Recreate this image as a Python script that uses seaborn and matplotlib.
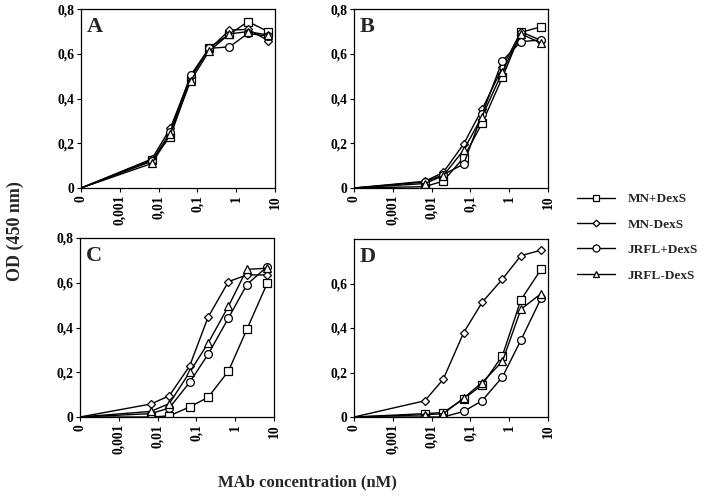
import numpy as np
import pandas as pd
import matplotlib
matplotlib.use("Agg")
import matplotlib.pyplot as plt
import seaborn as sns
from matplotlib.lines import Line2D

sns.set_style("ticks")
plt.rcParams['font.family'] = ['Liberation Serif', 'DejaVu Serif']
plt.rcParams['font.weight'] = 'bold'

# ---------------- data ----------------
conc = [0, 0.0067, 0.02, 0.067, 0.2, 0.67, 2.0, 6.7]   # MAb concentration (nM)
series_names = ["MN+DexS", "MN-DexS", "JRFL+DexS", "JRFL-DexS"]
series_markers = ["s", "D", "o", "^"]

A_mn_plus   = [0, 0.125, 0.23, 0.49, 0.628, 0.688, 0.745, 0.700]
A_mn_minus  = [0, 0.130, 0.267, 0.500, 0.620, 0.707, 0.710, 0.660]
A_jr_plus   = [0, 0.120, 0.250, 0.505, 0.625, 0.632, 0.692, 0.680]
A_jr_minus  = [0, 0.110, 0.240, 0.480, 0.612, 0.690, 0.700, 0.685]

B_mn_plus   = [0, 0.006, 0.031, 0.136, 0.290, 0.495, 0.697, 0.722]
B_mn_minus  = [0, 0.030, 0.070, 0.197, 0.352, 0.540, 0.700, 0.660]
B_jr_plus   = [0, 0.027, 0.060, 0.107, 0.330, 0.570, 0.655, 0.663]
B_jr_minus  = [0, 0.020, 0.055, 0.170, 0.320, 0.520, 0.690, 0.648]

C_mn_plus   = [0, 0.000, 0.005, 0.045, 0.088, 0.205, 0.392, 0.598]
C_mn_minus  = [0, 0.058, 0.095, 0.228, 0.446, 0.605, 0.635, 0.635]
C_jr_plus   = [0, 0.015, 0.040, 0.155, 0.280, 0.442, 0.592, 0.672]
C_jr_minus  = [0, 0.025, 0.060, 0.200, 0.330, 0.495, 0.660, 0.665]

D_mn_plus   = [0, 0.015, 0.020, 0.081, 0.144, 0.276, 0.526, 0.665]
D_mn_minus  = [0, 0.073, 0.170, 0.379, 0.515, 0.620, 0.725, 0.750]
D_jr_plus   = [0, 0.000, 0.000, 0.025, 0.073, 0.180, 0.345, 0.535]
D_jr_minus  = [0, 0.010, 0.015, 0.085, 0.155, 0.250, 0.484, 0.555]

panels = {
    "A": [A_mn_plus, A_mn_minus, A_jr_plus, A_jr_minus],
    "B": [B_mn_plus, B_mn_minus, B_jr_plus, B_jr_minus],
    "C": [C_mn_plus, C_mn_minus, C_jr_plus, C_jr_minus],
    "D": [D_mn_plus, D_mn_minus, D_jr_plus, D_jr_minus],
}

xtick_vals = [0, 0.001, 0.01, 0.1, 1, 10]
xtick_labels = ["0", "0,001", "0,01", "0,1", "1", "10"]
ytick_vals = [0, 0.2, 0.4, 0.6, 0.8]
ytick_labels = ["0", "0,2", "0,4", "0,6", "0,8"]

ZERO_POS = 1e-4  # where "0" sits on the log axis

def xpos(v):
    return np.where(np.asarray(v, float) == 0, ZERO_POS, np.asarray(v, float))

# ---------------- layout ----------------
W, H = 704, 498
fig = plt.figure(figsize=(W / 100, H / 100), dpi=100)

def rect(l, r, t, b):
    return [l / W, 1 - b / H, (r - l) / W, (b - t) / H]

axes_rects = {
    "A": rect(81, 275, 9.3, 188),
    "B": rect(354, 548, 9.3, 188),
    "C": rect(80, 274, 238, 417),
    "D": rect(354, 548, 239, 417),
}

marker_sizes = {"s": 5.2, "D": 3.8, "o": 5.6, "^": 5.2}
TICK_FS = 9.8

for key, ys in panels.items():
    ax = fig.add_axes(axes_rects[key])
    for name, mk, yv in zip(series_names, series_markers, ys):
        df = pd.DataFrame({"x": xpos(conc), "y": yv})
        sns.lineplot(data=df, x="x", y="y", ax=ax, sort=False, errorbar=None,
                     color="black", lw=1.0, marker=mk, ms=marker_sizes[mk],
                     markevery=list(range(1, len(conc))),
                     mfc="white", mec="black", mew=0.9, legend=False)
    ax.set_xscale("log")
    ax.set_xlim(ZERO_POS, 10)
    ax.set_ylim(0, 0.8)
    ax.set_xticks(xpos(xtick_vals))
    ax.set_xticklabels(xtick_labels, rotation=90, fontsize=TICK_FS, fontweight="bold")
    ax.xaxis.set_minor_locator(matplotlib.ticker.NullLocator())
    if key == "D":
        ax.set_yticks(ytick_vals[:-1])
        ax.set_yticklabels(ytick_labels[:-1], fontsize=TICK_FS, fontweight="bold")
    else:
        ax.set_yticks(ytick_vals)
        ax.set_yticklabels(ytick_labels, fontsize=TICK_FS, fontweight="bold")
    ax.set_xlabel("")
    ax.set_ylabel("")
    ax.tick_params(direction="out", length=3, width=0.8, pad=2, colors="black")
    for sp in ax.spines.values():
        sp.set_linewidth(0.9)
        sp.set_color("black")
    ax.text(0.03, 0.955, key, transform=ax.transAxes, ha="left", va="top",
            fontsize=16, fontweight="bold")

# legend
handles = [Line2D([0], [0], color="black", lw=1.0, marker=mk, ms=marker_sizes[mk] * 0.9,
                  mfc="white", mec="black", mew=0.9) for mk in series_markers]
fig.legend(handles, series_names, loc="upper left",
           bbox_to_anchor=(577 / W, 1 - 193 / H), frameon=False,
           prop={"weight": "bold", "size": 9.5}, handlelength=2.9,
           handletextpad=0.95, labelspacing=1.0, borderpad=0, borderaxespad=0)

fig.text(15 / W, 1 - 231 / H, "OD (450 nm)", rotation=90, ha="center", va="center",
         fontsize=13, fontweight="bold")
fig.text(307 / W, 1 - 482 / H, "MAb concentration (nM)", ha="center", va="center",
         fontsize=12, fontweight="bold")

fig.savefig("out.png", dpi=100)
